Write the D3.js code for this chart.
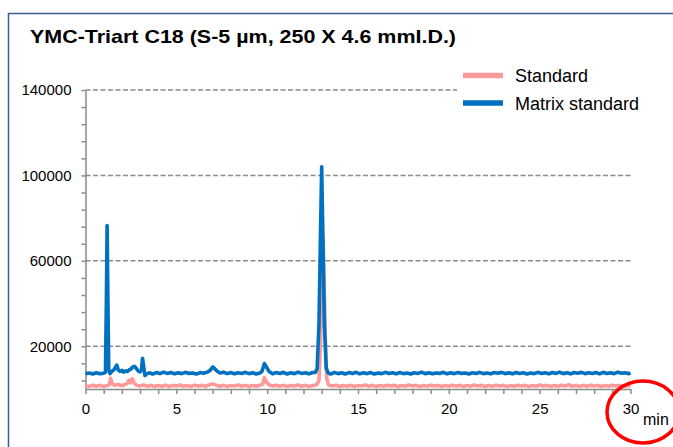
<!DOCTYPE html>
<html>
<head>
<meta charset="utf-8">
<script src="https://cdn.jsdelivr.net/npm/d3@7"></script>
<style>
  html, body { margin: 0; background: #fff; overflow: hidden; }
  svg { display: block; }
  text { font-family: "Liberation Sans", Arial, sans-serif; }
</style>
</head>
<body>
<div id="chart"></div>
<script>
// chart size
var chart_width  = 673;
var chart_height = 447;

// labels
var title_text   = "YMC-Triart C18 (S-5 µm, 250 X 4.6 mmI.D.)";
var series_names = ["Standard", "Matrix standard"];
var y_labels     = [20000, 60000, 100000, 140000];
var x_labels     = [0, 5, 10, 15, 20, 25, 30];

// Standard trace, [time (min), signal]
var standard = [
  [0,1500],[0.2,1200],[0.4,1800],[0.6,1300],[0.8,1700],[1.0,1200],[1.2,1600],[1.3,1900],
  [1.38,5000],[1.46,2600],[1.6,1700],[1.8,2100],[2.0,1500],[2.15,2000],[2.3,2600],[2.4,4100],
  [2.48,2900],[2.58,4900],[2.68,2700],[2.8,1800],[3.0,1400],[3.2,1900],[3.4,1300],[3.6,1700],
  [3.8,1200],[4.0,1600],[4.2,1300],[4.4,1800],[4.6,1200],[4.8,1700],[5.0,1400],[5.2,1900],
  [5.4,1300],[5.6,1600],[5.8,1200],[6.0,1800],[6.2,1400],[6.4,1700],[6.6,1300],[6.8,1900],
  [7.0,2400],[7.2,1800],[7.4,1300],[7.6,1700],[7.8,1200],[8.0,1600],[8.2,1400],[8.4,1900],
  [8.6,1300],[8.8,1700],[9.0,1200],[9.2,1600],[9.4,1300],[9.6,1800],[9.75,2200],[9.85,5300],
  [9.97,3200],[10.1,2000],[10.3,1400],[10.5,1800],[10.7,1300],[10.9,1700],[11.1,1200],[11.3,1600],
  [11.5,1400],[11.7,1900],[11.9,1300],[12.1,1700],[12.3,1200],[12.5,1600],[12.65,1800],[12.75,2300],
  [12.85,4000],[12.94,22000],[13.01,52000],[13.07,72000],[13.13,55000],[13.2,24000],[13.28,5000],[13.38,1900],
  [13.6,1400],[13.8,1800],[14.0,1200],[14.2,1600],[14.4,1300],[14.6,1700],[14.8,1200],[15.0,1600],
  [15.2,1400],[15.4,1900],[15.6,1300],[15.8,1700],[16.0,1200],[16.2,1600],[16.4,1300],[16.6,1800],
  [16.8,1400],[17.0,1700],[17.2,1200],[17.4,1600],[17.6,1300],[17.8,1900],[18.0,1400],[18.2,1700],
  [18.4,1200],[18.6,1600],[18.8,1300],[19.0,1800],[19.2,1400],[19.4,1700],[19.6,1200],[19.8,1600],
  [20.0,1300],[20.2,1800],[20.4,1400],[20.6,1700],[20.8,1200],[21.0,1600],[21.2,1300],[21.4,1900],
  [21.6,1400],[21.8,1700],[22.0,1200],[22.2,1600],[22.4,1300],[22.6,1800],[22.8,1400],[23.0,1700],
  [23.2,1200],[23.4,1600],[23.6,1300],[23.8,1800],[24.0,1400],[24.2,1700],[24.4,1200],[24.6,1600],
  [24.8,1300],[25.0,1900],[25.2,1400],[25.4,1700],[25.6,1200],[25.8,1600],[26.0,1300],[26.2,1800],
  [26.4,1400],[26.6,2000],[26.8,1300],[27.0,1600],[27.2,1200],[27.4,1700],[27.6,1300],[27.8,1800],
  [28.0,1400],[28.2,1700],[28.4,1200],[28.6,1600],[28.8,1300],[29.0,1800],[29.2,1400],[29.4,1700],
  [29.6,1200],[29.8,1600],[30,1400]
];

// Matrix standard trace, [time (min), signal]
var matrix_standard = [
  [0,7200],[0.2,7500],[0.4,7000],[0.6,7600],[0.8,7100],[1.0,7400],[1.1,7900],[1.15,42000],
  [1.19,76500],[1.23,43000],[1.28,9000],[1.35,7200],[1.45,8300],[1.55,8800],[1.65,10200],[1.72,11200],
  [1.8,9000],[1.9,8300],[2.0,8700],[2.1,7900],[2.2,8500],[2.3,8200],[2.4,8900],[2.5,9300],
  [2.6,10300],[2.7,10600],[2.8,9600],[2.9,8400],[3.0,8000],[3.08,8800],[3.14,14400],[3.2,10500],
  [3.27,6300],[3.35,6900],[3.5,7600],[3.7,7000],[3.9,7700],[4.1,7200],[4.3,7900],[4.5,7300],
  [4.7,7700],[4.9,7100],[5.1,7600],[5.3,7200],[5.5,7800],[5.7,7300],[5.9,7500],[6.1,7000],
  [6.3,7700],[6.5,7400],[6.7,7900],[6.85,8600],[7.0,10300],[7.1,9600],[7.25,8300],[7.4,7500],
  [7.6,7900],[7.8,7200],[8.0,7700],[8.2,7100],[8.4,7600],[8.6,7300],[8.8,7800],[9.0,7200],
  [9.2,7600],[9.4,7000],[9.6,7500],[9.72,8300],[9.85,11900],[9.95,10500],[10.1,8200],[10.3,7100],
  [10.5,7700],[10.7,7300],[10.9,7800],[11.1,7000],[11.3,7600],[11.5,7200],[11.7,7900],[11.9,7300],
  [12.1,7600],[12.3,7100],[12.5,7700],[12.65,7800],[12.75,9500],[12.85,30000],[12.93,70000],[13.0,104000],
  [13.07,70000],[13.15,30000],[13.25,9800],[13.35,7600],[13.5,7000],[13.7,7800],[13.9,7200],[14.1,7600],
  [14.3,7000],[14.5,7700],[14.7,7300],[14.9,7800],[15.1,7100],[15.3,7600],[15.5,7200],[15.7,7700],
  [15.9,7000],[16.1,7500],[16.3,7200],[16.5,7800],[16.7,7300],[16.9,7600],[17.1,7100],[17.3,7700],
  [17.5,7200],[17.7,7500],[17.9,7000],[18.1,7600],[18.3,7300],[18.5,7900],[18.7,7200],[18.9,7600],
  [19.1,7100],[19.3,7500],[19.5,7300],[19.7,7800],[19.9,7100],[20.1,7600],[20.3,7200],[20.5,7700],
  [20.7,7300],[20.9,7500],[21.1,7000],[21.3,7600],[21.5,7300],[21.7,7800],[21.9,7200],[22.1,7500],
  [22.3,7100],[22.5,7700],[22.7,7400],[22.9,7800],[23.1,7200],[23.3,7600],[23.5,7100],[23.7,7700],
  [23.9,7300],[24.1,7600],[24.3,7000],[24.5,7500],[24.7,7200],[24.9,7800],[25.1,7300],[25.3,7600],
  [25.5,7100],[25.7,7700],[25.9,7300],[26.1,7900],[26.3,7200],[26.5,7600],[26.7,7100],[26.9,7700],
  [27.1,7400],[27.3,7800],[27.5,7200],[27.7,7600],[27.9,7300],[28.1,7700],[28.3,7100],[28.5,7800],
  [28.7,7300],[28.9,7600],[29.1,7200],[29.3,7900],[29.5,7400],[29.7,7600],[29.9,7200],[30,7500]
];

var colors = ["#ff9999", "#0070c0"];

var svg = d3.select("#chart")
    .append("svg")
    .attr("width", chart_width)
    .attr("height", chart_height);

// outer frame (top + left edges only are visible)
svg.append("path")
    .attr("d", "M8.5," + chart_height + "V13.5H" + chart_width)
    .attr("fill", "none")
    .attr("stroke", "#3d5a98")
    .attr("stroke-width", 1.5);

svg.append("text")
    .attr("x", 30)
    .attr("y", 42.5)
    .attr("font-size", 19)
    .attr("font-weight", "bold")
    .attr("textLength", 426)
    .attr("lengthAdjust", "spacingAndGlyphs")
    .text(title_text);

var x = d3.scaleLinear().domain([0, 30]).range([85.5, 630.5]);
var y = d3.scaleLinear().domain([0, 140000]).range([389, 90]);

// dashed gridlines
svg.append("g")
    .selectAll("line")
    .data(y_labels)
    .enter()
    .append("line")
    .attr("x1", x(0))
    .attr("x2", x(30))
    .attr("y1", function(d){ return y(d); })
    .attr("y2", function(d){ return y(d); })
    .attr("stroke", "#8a8a8a")
    .attr("stroke-width", 1.5)
    .attr("stroke-dasharray", "5,2.5");

// y axis
var y_ticks = d3.range(140000, 0, -8000);
var y_axis = d3.axisLeft(y)
    .tickValues(y_ticks)
    .tickSize(4)
    .tickSizeOuter(0)
    .tickPadding(10)
    .tickFormat(function(d){ return y_labels.indexOf(d) >= 0 ? d : ""; });

var gy = svg.append("g")
    .attr("transform", "translate(" + x(0) + ",0)")
    .call(y_axis);

// x axis
var x_axis = d3.axisBottom(x)
    .tickValues(d3.range(0, 31, 1))
    .tickSize(5)
    .tickSizeOuter(0)
    .tickPadding(9)
    .tickFormat(function(d){ return x_labels.indexOf(d) >= 0 ? d : ""; });

var gx = svg.append("g")
    .attr("transform", "translate(0," + y(0) + ")")
    .call(x_axis);

[gx, gy].forEach(function(g){
    g.select(".domain").attr("stroke", "#8a8a8a").attr("stroke-width", 1.5);
    g.selectAll(".tick line").attr("stroke", "#8a8a8a").attr("stroke-width", 1.5);
    g.selectAll(".tick text")
      .attr("fill", "#000")
      .attr("font-size", 15)
      .attr("font-family", "Liberation Sans, Arial, sans-serif");
});

// traces
var line = d3.line()
    .x(function(d){ return x(d[0]); })
    .y(function(d){ return y(d[1]); });

svg.selectAll(".trace")
    .data([standard, matrix_standard])
    .enter()
    .append("path")
    .attr("class", "trace")
    .attr("d", line)
    .attr("fill", "none")
    .attr("stroke", function(d, i){ return colors[i]; })
    .attr("stroke-width", 3.6)
    .attr("stroke-linejoin", "round");

// legend
var legend = svg.append("g");
legend.append("rect")
    .attr("x", 457).attr("y", 62)
    .attr("width", 200).attr("height", 54)
    .attr("fill", "#fff");

var leg = legend.selectAll(".leg")
    .data(series_names)
    .enter()
    .append("g")
    .attr("transform", function(d, i){ return "translate(0," + (75.5 + i * 27.5) + ")"; });

leg.append("line")
    .attr("x1", 463).attr("x2", 503)
    .attr("stroke", function(d, i){ return colors[i]; })
    .attr("stroke-width", 5.5);

leg.append("text")
    .attr("x", 515)
    .attr("y", 6.5)
    .attr("font-size", 18)
    .text(function(d){ return d; });

// "min" unit and the red circle round it
svg.append("text")
    .attr("x", 643)
    .attr("y", 425)
    .attr("font-size", 16)
    .text("min");

svg.append("ellipse")
    .attr("cx", 643)
    .attr("cy", 412)
    .attr("rx", 36)
    .attr("ry", 31)
    .attr("fill", "none")
    .attr("stroke", "#ff0000")
    .attr("stroke-width", 3.5);
</script>
</body>
</html>
